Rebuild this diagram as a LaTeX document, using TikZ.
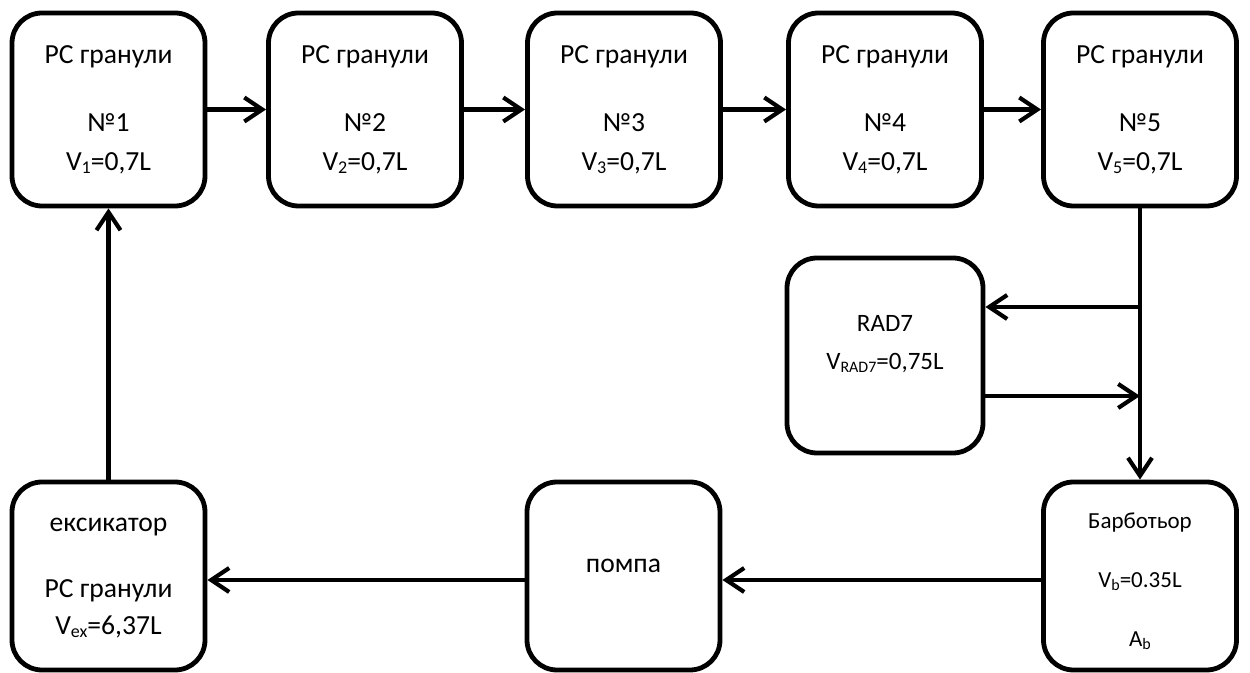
\documentclass[tikz,border=0pt]{standalone}
\usepackage{fontspec}
\setmainfont{Carlito}
\usetikzlibrary{arrows.meta}
\newcommand\bsub[1]{\raisebox{-1.8pt}{\fontsize{9}{9}\selectfont #1}}
\newcommand\ssub[1]{\raisebox{-1.5pt}{\fontsize{8}{8}\selectfont #1}}
\begin{document}
\begin{tikzpicture}[x=0.5pt,y=-0.5pt,
  box/.style={draw, line width=2.4pt, rounded corners=15pt, minimum width=96.5pt, minimum height=96.5pt, inner sep=0pt},
  lowbox/.style={box, minimum height=94pt},
  big/.style={align=center, inner sep=0pt, font=\fontsize{13.8}{19.5}\selectfont},
  small/.style={align=center, inner sep=0pt, font=\fontsize{12.5}{19}\selectfont},
  flow/.style={line width=2.1pt, -{Straight Barb[length=9pt,width=12pt]}}
]
\useasboundingbox (0,0) rectangle (1250,673);
% boxes
\node[box] (b1) at (108.5,109.5) {};
\node[box] (b2) at (365,109.5) {};
\node[box] (b3) at (624,109.5) {};
\node[box] (b4) at (885,109.5) {};
\node[box] (b5) at (1140,109.5) {};
\node[box, minimum width=98pt, minimum height=97.5pt] (r7) at (885,355.5) {};
\node[lowbox] (bb) at (1140,576) {};
\node[lowbox] (pm) at (623.5,576) {};
\node[lowbox] (ex) at (108.5,576) {};
% texts
\node[big] (t1) at (b1.center) {РС гранули\\[14.5pt]№1\\V\bsub{1}=0,7L};
\node[big] (t2) at (b2.center) {РС гранули\\[14.5pt]№2\\V\bsub{2}=0,7L};
\node[big] (t3) at (b3.center) {РС гранули\\[14.5pt]№3\\V\bsub{3}=0,7L};
\node[big] (t4) at (b4.center) {РС гранули\\[14.5pt]№4\\V\bsub{4}=0,7L};
\node[big] (t5) at (b5.center) {РС гранули\\[14.5pt]№5\\V\bsub{5}=0,7L};
\node[small] (tr) at ([yshift=5.5pt]r7.center) {RAD7\\V\ssub{RAD7}=0,75L};
\node[small, font=\fontsize{11.5}{29.5}\selectfont] (tb) at ([yshift=-2.5pt]bb.center) {Барботьор\\V\ssub{b}=0.35L\\A\ssub{b}};
\node[big] (tp) at ([yshift=5pt]pm.center) {помпа};
\node[big, font=\fontsize{13.8}{18.5}\selectfont] (te) at ([yshift=-1pt]ex.center) {ексикатор\\[14.5pt]РС гранули\\V\bsub{ex}=6,37L};
% connectors
\draw[flow] (b1.east) -- (b2.west);
\draw[flow] (b2.east) -- (b3.west);
\draw[flow] (b3.east) -- (b4.west);
\draw[flow] (b4.east) -- (b5.west);
\coordinate (j1) at (1140,307);
\coordinate (j2) at (1140,396);
\draw[flow] (b5.south) -- (bb.north);
\draw[flow] (j1) -- (j1 -| r7.east);
\draw[flow] (r7.east |- j2) -- (j2);
\draw[flow] ([yshift=-2pt]bb.west) -- ([yshift=-2pt]pm.east);
\draw[flow] ([yshift=-2pt]pm.west) -- ([yshift=-2pt]ex.east);
\draw[flow] (ex.north) -- (b1.south);
\end{tikzpicture}
\end{document}
